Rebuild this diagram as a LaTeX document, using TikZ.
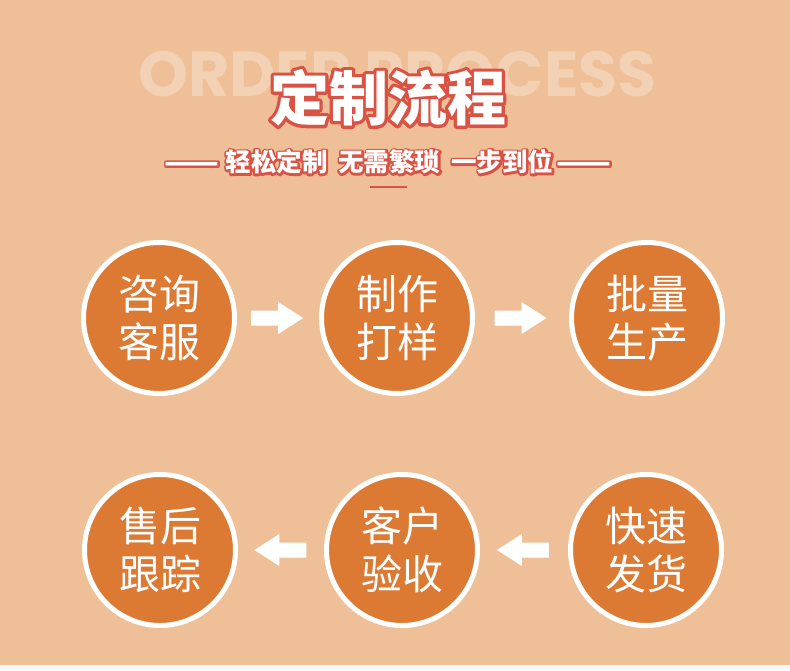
\documentclass[tikz,border=0pt]{standalone}
\usepackage{fontspec}
\newfontfamily\cjk{Noto Sans CJK SC}
\newfontfamily\wmfont{Poppins}
\definecolor{bgc}{RGB}{239,191,152}
\definecolor{stripc}{RGB}{247,247,247}
\definecolor{orangec}{RGB}{220,122,51}
\definecolor{redc}{RGB}{218,82,68}
\definecolor{wmc}{RGB}{243,209,180}
\newcommand\otext[2]{\makebox[0pt][l]{\special{pdf:literal direct 1 Tr #1 w 1 j 0.855 0.322 0.267 RG}#2\special{pdf:literal direct 0 Tr}}#2}
\newcommand\longdash{{\fontsize{32}{32}\selectfont\raisebox{-1.5pt}{——}}}
\tikzset{
  stepcircle/.style={circle, fill=orangec, draw=white, line width=5pt, minimum size=151pt, inner sep=0pt,
    text=white, align=center, font=\cjk\fontsize{41}{48}\selectfont},
  blockarrow/.pic={\fill[white] (-26,-7.5) -- (1,-7.5) -- (1,-16) -- (26,0) -- (1,16) -- (1,7.5) -- (-26,7.5) -- cycle;}
}
\begin{document}
\begin{tikzpicture}[x=1pt,y=-1pt]
\useasboundingbox (0,0) rectangle (790,670);
\fill[bgc] (0,0) rectangle (790,665);
\fill[stripc] (0,665) rectangle (790,670);
\node[anchor=base, inner sep=0pt, text=wmc, font=\wmfont\bfseries\fontsize{63.5}{63.5}\selectfont] (wm) at (397.5,96) {ORDER PROCESS};
\node[inner sep=0pt, text=white, font=\cjk\bfseries\fontsize{59}{59}\selectfont] (title) at (388,97.5) {\otext{6.5}{定制流程}};
\node[inner sep=0pt, text=white, font=\cjk\bfseries\fontsize{25.5}{25.5}\selectfont] (sub) at (388,162) {\otext{4}{\longdash\hspace{6pt}轻松定制\hspace{11pt}无需繁琐\hspace{11pt}一步到位\hspace{3pt}\longdash}};
\coordinate (ul) at (370,187);
\coordinate (ur) at (407,187);
\draw[redc, line width=2.5pt] (ul) -- (ur);
\node[stepcircle] (c1) at (159,318) {咨询\\客服};
\node[stepcircle] (c2) at (397,318) {制作\\打样};
\node[stepcircle] (c3) at (647,318) {批量\\生产};
\node[stepcircle] (c4) at (646,550) {快速\\发货};
\node[stepcircle] (c5) at (402,550) {客户\\验收};
\node[stepcircle] (c6) at (160,550) {售后\\跟踪};
\path (c1) -- (c2) coordinate[pos=0.49] (a1);
\path (c2) -- (c3) coordinate[pos=0.484] (a2);
\path (c4) -- (c5) coordinate[pos=0.512] (a3);
\path (c5) -- (c6) coordinate[pos=0.508] (a4);
\pic at (a1) {blockarrow};
\pic at (a2) {blockarrow};
\pic[rotate=180] at (a3) {blockarrow};
\pic[rotate=180] at (a4) {blockarrow};
\end{tikzpicture}
\end{document}
